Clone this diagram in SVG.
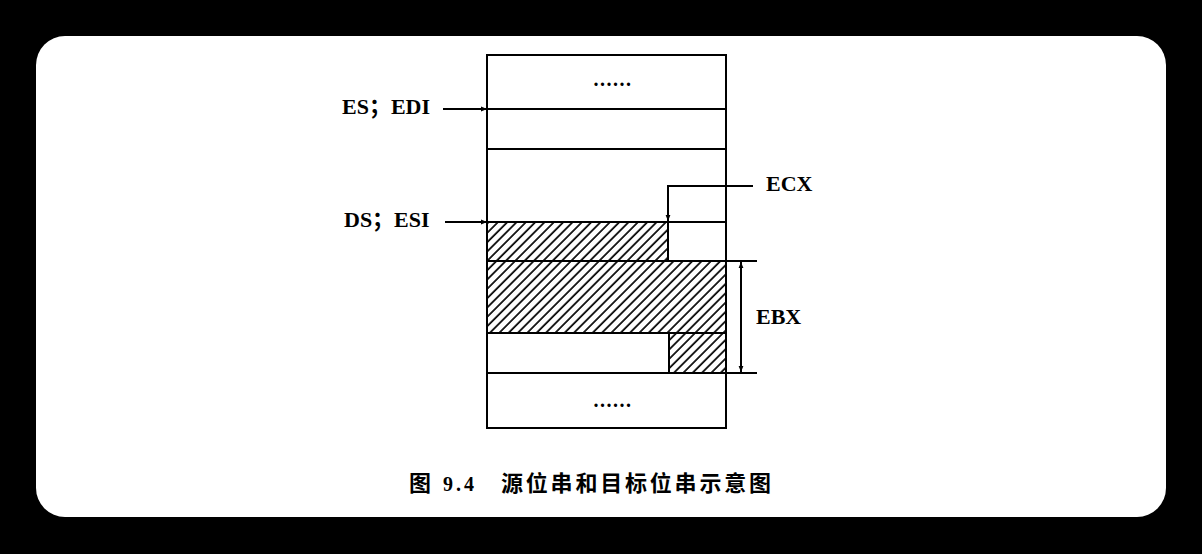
<svg xmlns="http://www.w3.org/2000/svg" width="1202" height="554" viewBox="0 0 1202 554">
  <defs>
    <pattern id="hatch" patternUnits="userSpaceOnUse" width="6.6" height="10" patternTransform="rotate(45)">
      <line x1="1" y1="0" x2="1" y2="10" stroke="#000" stroke-width="1.7"/>
    </pattern>
    <marker id="arr" viewBox="0 0 10 10" refX="10" refY="5" markerWidth="9" markerHeight="6" markerUnits="userSpaceOnUse" orient="auto-start-reverse">
      <path d="M0,1 L10,5 L0,9 Z" fill="#000"/>
    </marker>
    <style>
      .ln{stroke:#000;stroke-width:2;fill:none}
      .lbl{font-family:"Liberation Serif","Noto Sans CJK SC",serif;font-weight:bold;font-size:22px;fill:#000}
      .dots{font-family:"Liberation Serif",serif;font-weight:bold;font-size:20px;fill:#000;letter-spacing:1.5px}
      .cap{font-family:"Noto Sans CJK SC","Liberation Serif",sans-serif;font-weight:bold;font-size:22px;fill:#000}
      .hat{fill:url(#hatch);stroke:#000;stroke-width:2}
    </style>
  </defs>
  <rect x="0" y="0" width="1202" height="554" fill="#000"/>
  <rect x="36" y="36" width="1130" height="481" rx="29" ry="29" fill="#fff"/>

  <g id="memory">
    <g id="cell-top"><rect class="ln" x="487" y="55" width="239" height="54"/><text class="dots" x="613" y="86" text-anchor="middle">......</text></g>
    <g id="cell-edi"><rect class="ln" x="487" y="109" width="239" height="40"/></g>
    <g id="cell-mid"><rect class="ln" x="487" y="149" width="239" height="73"/></g>
    <g id="cell-esi">
      <rect class="ln" x="487" y="222" width="239" height="39"/>
      <rect class="hat" x="487" y="222" width="181" height="39"/>
    </g>
    <g id="cell-full"><rect class="hat" x="487" y="261" width="239" height="72"/></g>
    <g id="cell-last">
      <rect class="ln" x="487" y="333" width="239" height="40"/>
      <rect class="hat" x="669" y="333" width="57" height="40"/>
    </g>
    <g id="cell-bottom"><rect class="ln" x="487" y="373" width="239" height="55"/><text class="dots" x="613" y="407" text-anchor="middle">......</text></g>
  </g>

  <g id="labels">
    <text class="lbl" x="342" y="114">ES；EDI</text>
    <text class="lbl" x="344" y="227">DS；ESI</text>
    <text class="lbl" x="766" y="191">ECX</text>
    <text class="lbl" x="756" y="324">EBX</text>
  </g>

  <g id="connectors">
    <line class="ln" x1="443" y1="109" x2="487" y2="109" marker-end="url(#arr)"/>
    <line class="ln" x1="445" y1="222" x2="487" y2="222" marker-end="url(#arr)"/>
    <polyline class="ln" points="753,186 668,186 668,221" marker-end="url(#arr)"/>
    <line class="ln" x1="726" y1="261" x2="757" y2="261"/>
    <line class="ln" x1="726" y1="373" x2="757" y2="373"/>
    <line class="ln" x1="741" y1="262" x2="741" y2="372" marker-start="url(#arr)" marker-end="url(#arr)"/>
  </g>

  <g id="caption">
    <text class="cap" x="409" y="491">图</text>
    <text class="lbl" x="443" y="491" style="font-size:20px;letter-spacing:3px">9.4</text>
    <text class="cap" x="501" y="491" textLength="270" lengthAdjust="spacing">源位串和目标位串示意图</text>
  </g>
</svg>
